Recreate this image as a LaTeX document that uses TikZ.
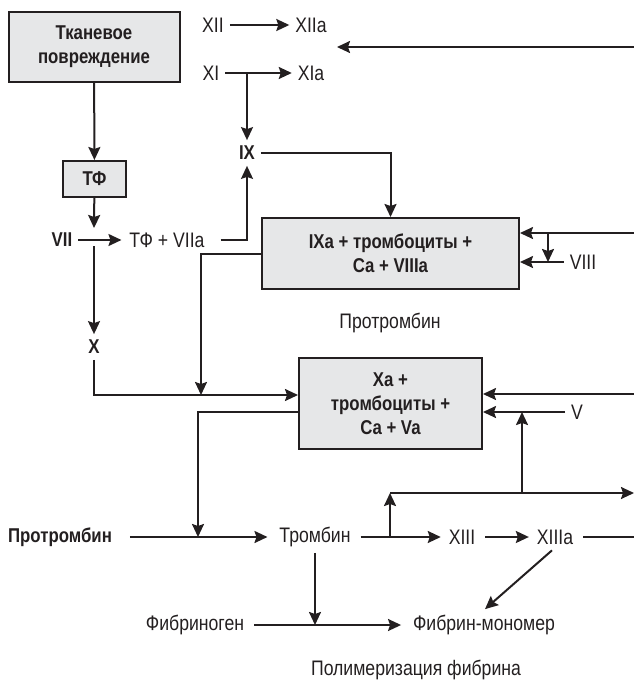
\documentclass[tikz,border=0pt]{standalone}
\usepackage{fontspec}
\setmainfont{Liberation Sans}[FakeStretch=0.84]
\usepackage{xcolor}
\usepackage{tikz}
\usetikzlibrary{arrows.meta, positioning}

\definecolor{boxgray}{HTML}{E6E7E8}
\definecolor{ink}{HTML}{231F20}

\begin{document}
\begin{tikzpicture}[x=1pt, y=-1pt, line width=2pt, color=ink,
    >={Stealth[length=13pt, width=12pt, inset=2pt]},
    font=\fontsize{21}{24}\selectfont,
    factor/.style={inner sep=5pt},
    keyfactor/.style={factor, font=\fontsize{20}{24}\selectfont\bfseries},
    complex/.style={rectangle, draw, fill=boxgray, align=center, font=\fontsize{20}{24}\selectfont\bfseries}]
    \useasboundingbox (0,0) rectangle (634,681);

    % boxes
    \node[complex, minimum width=171pt, minimum height=70pt] (tissue) at (94,47) {Тканевое\\повреждение};
    \node[complex, minimum width=63pt, minimum height=36pt] (tf) at (94.5,179) {ТФ};
    \node[complex, minimum width=257pt, minimum height=71pt] (ixa) at (390.5,253.5) {IXa + тромбоциты +\\Ca + VIIIa};
    \node[complex, minimum width=183pt, minimum height=91pt] (xa) at (390.5,403.5) {Xa +\\тромбоциты +\\Ca + Va};

    % factors
    \node[keyfactor] (vii) at (62,240) {VII};
    \node[factor] (tfvii) at (167,240) {ТФ + VIIa};
    \node[factor] (xii) at (213,25) {XII};
    \node[factor] (xiia) at (311,25) {XIIa};
    \node[factor] (xi) at (211,73) {XI};
    \node[factor] (xia) at (311,73) {XIa};
    \node[keyfactor] (ix) at (247,153) {IX};
    \node[factor] (viii) at (583,262) {VIII};
    \node[factor] (prot) at (390,323) {Протромбин};
    \node[keyfactor] (x) at (94,347) {X};
    \node[factor] (v) at (577,412) {V};
    \node[keyfactor] (protb) at (60,537) {Протромбин};
    \node[factor] (thr) at (315,537) {Тромбин};
    \node[factor] (xiii) at (462,537) {XIII};
    \node[factor] (xiiia) at (555,537) {XIIIa};
    \node[factor] (fibg) at (195,625) {Фибриноген};
    \node[factor] (fibm) at (484,625) {Фибрин-мономер};
    \node[factor] (poly) at (416,670) {Полимеризация фибрина};

    % junctions and loose ends
    \coordinate (tfend) at (94,228);
    \coordinate (xstart) at (94,246);
    \coordinate (fbtop) at (634,47);
    \coordinate (fbtopend) at (337,47);
    \coordinate (fb8) at (634,233);
    \coordinate (b8) at (548,233);
    \coordinate (xj) at (201,395);
    \coordinate (fb5) at (634,394);
    \coordinate (b5) at (522,493);
    \coordinate (thrj) at (198,537);
    \coordinate (b13) at (390,537);
    \coordinate (b13up) at (390,493);
    \coordinate (fb13) at (634,493);
    \coordinate (xiiiend) at (634,537);

    % extrinsic path
    \draw[->] (tissue) -- (tf);
    \draw[->] (tf) -- (tfend);
    \draw[->, shorten >=2pt] (vii) -- (tfvii);
    \draw[->, shorten <=10pt] (tfvii.east) -| (ix.south);
    \draw[->] (xstart) -- (x.north);
    \draw[->] (x.south) |- (xj -| xa.west);

    % intrinsic path
    \draw[->] (xii) -- (xiia);
    \draw[->] (xi) -- (xia);
    \draw[->] (ix |- xi) -- (ix.north);
    \draw[->] (ix) -| (ixa.north);
    \draw[->] (fbtop) -- (fbtopend);

    % cofactors
    \draw[->] (fb8) -- (fb8 -| ixa.east);
    \draw[->] (b8) -- (b8 |- viii);
    \draw[->] (viii) -- (viii -| ixa.east);
    \draw[->] (ixa.west) -| (xj);
    \draw[->] (fb5) -- (fb5 -| xa.east);
    \draw[->] (v) -- (v -| xa.east);
    \draw[->] (b5) -- (b5 |- v);
    \draw[->] ([yshift=-8.5pt]xa.west) -| (thrj);

    % thrombin
    \draw[->, shorten <=12pt, shorten >=6pt] (protb) -- (thr);
    \draw[->, shorten <=4pt, shorten >=2pt] (thr) -- (xiii);
    \draw[->] (b13) -- (b13up);
    \draw[->] (b13up) -- (fb13);
    \draw[->, shorten <=4pt, shorten >=2pt] (xiii) -- (xiiia);
    \draw[shorten <=4pt] (xiiia) -- (xiiiend);
    \draw[->] (thr) -- (thr |- fibm);
    \draw[->, shorten <=4pt, shorten >=6pt] (fibg) -- (fibm);
    \draw[->] ([xshift=-3pt]xiiia.south) -- ([xshift=1pt]fibm.north);
\end{tikzpicture}
\end{document}
